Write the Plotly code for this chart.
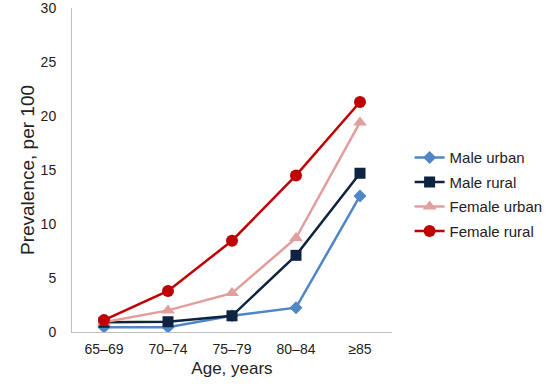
import plotly.graph_objects as go

categories = ["65–69", "70–74", "75–79", "80–84", "≥85"]
male_urban = [0.45, 0.45, 1.5, 2.25, 12.6]
male_rural = [0.9, 0.95, 1.5, 7.1, 14.7]
female_urban = [0.9, 2.0, 3.6, 8.7, 19.4]
female_rural = [1.1, 3.8, 8.45, 14.5, 21.3]
y_ticks = [0, 5, 10, 15, 20, 25, 30]

series = [
    ("Male urban", male_urban, "#4F86C6", "diamond", 10),
    ("Male rural", male_rural, "#0E2341", "square", 11),
    ("Female urban", female_urban, "#E29D9D", "triangle-up", 12),
    ("Female rural", female_rural, "#C00000", "circle", 12),
]

fig = go.Figure()
for name, vals, color, sym, sz in series:
    fig.add_trace(go.Scatter(
        x=categories, y=vals, name=name, mode="lines+markers",
        line=dict(color=color, width=2.5),
        marker=dict(symbol=sym, size=sz, color=color),
        legendgroup=name,
    ))

fig.update_layout(
    width=556, height=389,
    margin=dict(l=72, r=164, t=8, b=57),
    paper_bgcolor="white", plot_bgcolor="white",
    font=dict(family="Liberation Sans, Arial", size=14, color="#222222"),
    showlegend=True,
    legend=dict(x=1.055, y=0.425, xanchor="left", yanchor="middle",
                font=dict(size=15), tracegroupgap=2, bgcolor="rgba(0,0,0,0)"),
    xaxis=dict(type="category", categoryorder="array", categoryarray=categories,
               range=[-0.5, len(categories) - 0.5],
               showgrid=False, showline=True, linecolor="#BFBFBF",
               linewidth=1, ticks="outside", ticklen=4, tickcolor="rgba(0,0,0,0)",
               automargin=False,
               title=dict(text="Age, years", font=dict(size=17), standoff=6)),
    yaxis=dict(range=[0, 30], tickmode="array", tickvals=y_ticks,
               ticktext=[str(v) for v in y_ticks], ticklabeloverflow="allow",
               showgrid=False, showline=True, linecolor="#BFBFBF",
               linewidth=1, ticks="outside", ticklen=12, tickcolor="rgba(0,0,0,0)",
               zeroline=False, automargin=False,
               title=dict(text="Prevalence, per 100", font=dict(size=19), standoff=0)),
)

fig.write_html("out.html", config={"displayModeBar": False},
               post_script="document.body.style.margin='0';")
